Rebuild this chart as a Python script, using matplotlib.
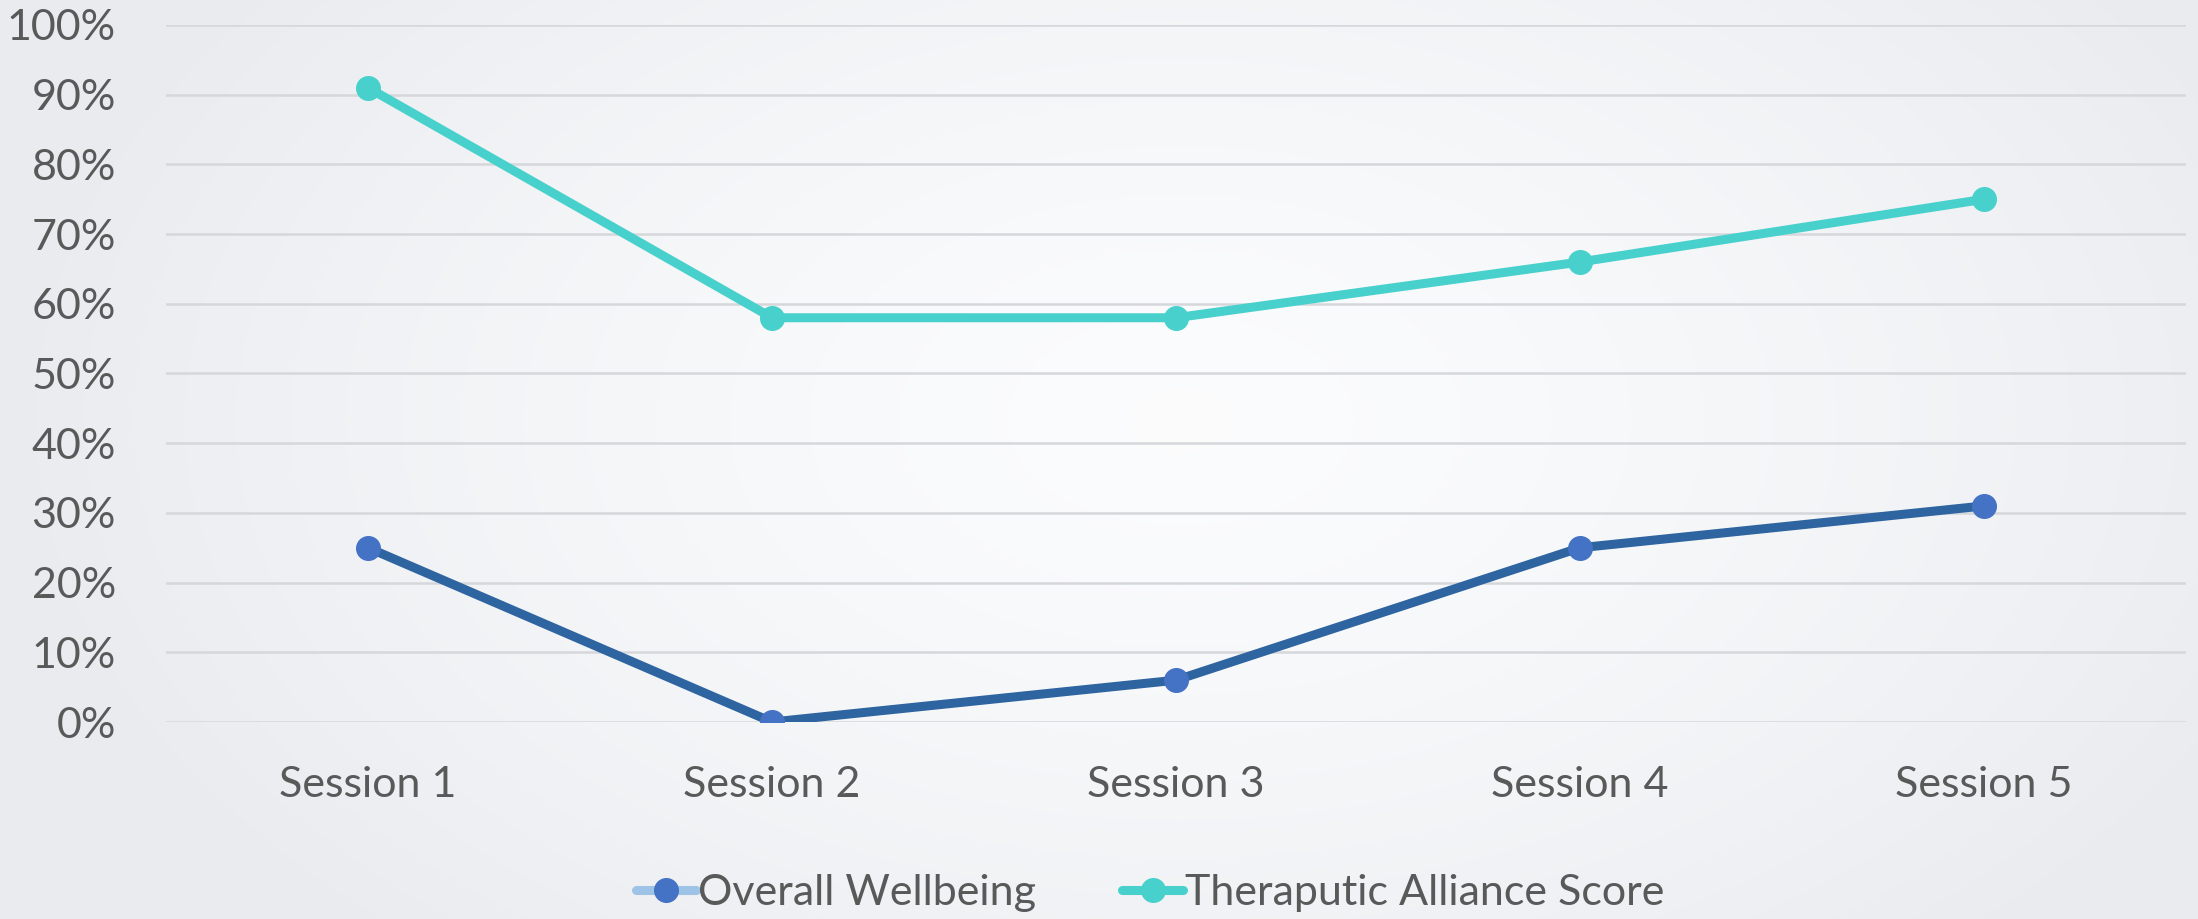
import numpy as np
import matplotlib.pyplot as plt
from matplotlib.lines import Line2D

plt.rcParams['font.family'] = ['Lato', 'DejaVu Sans']

# chart data
sessions = ['Session 1', 'Session 2', 'Session 3', 'Session 4', 'Session 5']
wellbeing = [25, 0, 6, 25, 31]
alliance = [91, 58, 58, 66, 75]
y_ticks = [0, 10, 20, 30, 40, 50, 60, 70, 80, 90, 100]

W, H = 2198, 919
fig = plt.figure(figsize=(W / 100, H / 100), dpi=100)

# soft radial background
bg = fig.add_axes([0, 0, 1, 1], zorder=-10)
yy, xx = np.mgrid[0:H, 0:W]
r = np.sqrt(((xx - 1180) / 1150.0) ** 2 + ((yy - 420) / 700.0) ** 2)
r = np.clip(r, 0, 1)
c_in = np.array([0.985, 0.988, 0.992])
c_out = np.array([0.918, 0.925, 0.940])
img = c_in[None, None, :] * (1 - r[..., None] ** 1.5) + c_out[None, None, :] * (r[..., None] ** 1.5)
bg.imshow(img, aspect='auto', extent=[0, 1, 0, 1])
bg.axis('off')

ax = fig.add_axes([166 / W, 1 - 722 / H, (2186 - 166) / W, (722 - 25) / H])
ax.patch.set_alpha(0)
x = np.arange(len(sessions))

ax.plot(x, alliance, color='#48d1cc', lw=6.5, marker='o', ms=17,
        solid_capstyle='round', zorder=3)
ax.plot(x, wellbeing, color='#2e64a0', lw=6.5, marker='o', ms=17,
        mfc='#4472c4', mec='#4472c4', solid_capstyle='round', zorder=3)

ax.set_xlim(-0.5, 4.5)
ax.set_ylim(0, 100)
ax.set_yticks(y_ticks)
ax.set_yticklabels([f'{v}%' for v in y_ticks])
ax.set_xticks(x)
ax.set_xticklabels(sessions)
ax.grid(axis='y', color='#d5d7db', lw=1.8)
ax.set_axisbelow(True)
for s in ax.spines.values():
    s.set_visible(False)
ax.tick_params(length=0, labelsize=31, labelcolor='#595959')
ax.tick_params(axis='y', pad=36)
ax.tick_params(axis='x', pad=32)

handles = [
    Line2D([], [], color='#9dc3e6', lw=6.5, marker='o', ms=17,
           mfc='#4472c4', mec='#4472c4', solid_capstyle='round'),
    Line2D([], [], color='#48d1cc', lw=6.5, marker='o', ms=17,
           solid_capstyle='round'),
]
fig.legend(handles, ['Overall Wellbeing', 'Theraputic Alliance Score'],
           loc='center', bbox_to_anchor=(1150 / W, 1 - 893 / H), ncol=2,
           frameon=False, fontsize=31, labelcolor='#595959',
           handlelength=1.4, handletextpad=0.05, columnspacing=2.0)

fig.savefig('out.png', dpi=100)
